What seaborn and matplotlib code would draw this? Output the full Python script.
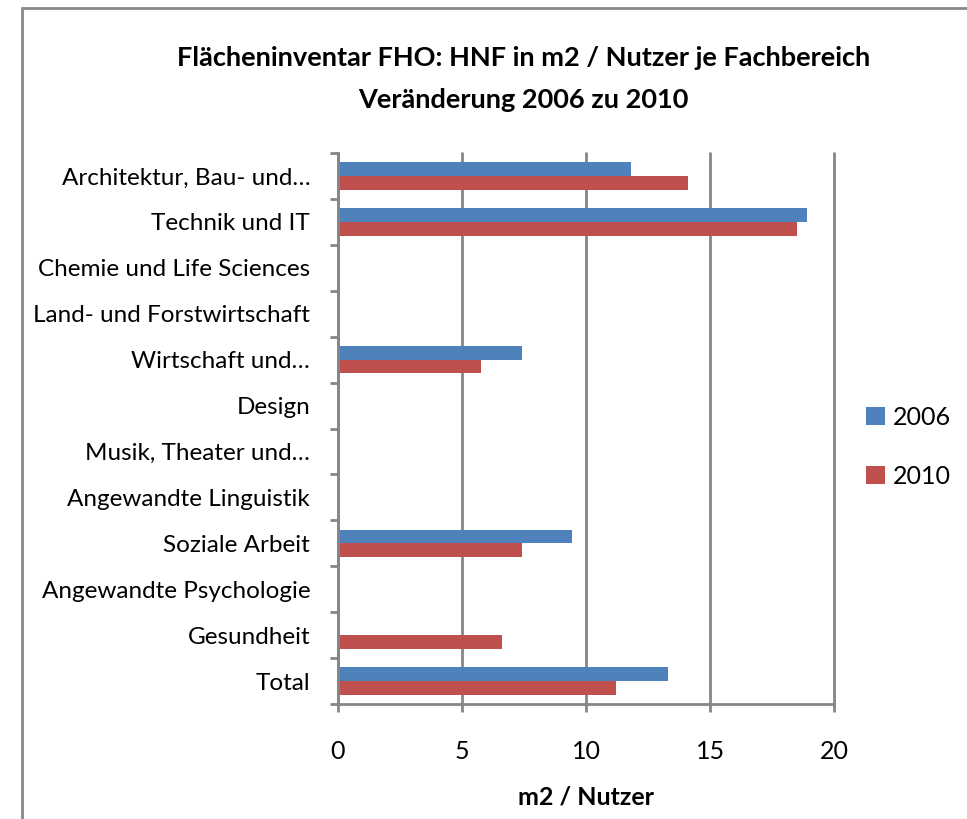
import matplotlib
matplotlib.use("Agg")
import matplotlib.pyplot as plt
from matplotlib.patches import Rectangle
from matplotlib.ticker import FixedLocator
import numpy as np
import pandas as pd
import seaborn as sns

categories = [
    "Architektur, Bau- und…",
    "Technik und IT",
    "Chemie und Life Sciences",
    "Land- und Forstwirtschaft",
    "Wirtschaft und…",
    "Design",
    "Musik, Theater und…",
    "Angewandte Linguistik",
    "Soziale Arbeit",
    "Angewandte Psychologie",
    "Gesundheit",
    "Total",
]
values_2006 = [11.8, 18.9, np.nan, np.nan, 7.4, np.nan, np.nan, np.nan, 9.45, np.nan, np.nan, 13.3]
values_2010 = [14.1, 18.5, np.nan, np.nan, 5.75, np.nan, np.nan, np.nan, 7.4, np.nan, 6.6, 11.2]
years = ["2006", "2010"]
x_ticks = [0, 5, 10, 15, 20]

df = pd.DataFrame({
    "Fachbereich": categories * 2,
    "Jahr": [years[0]] * len(categories) + [years[1]] * len(categories),
    "Wert": values_2006 + values_2010,
})

sns.set_theme(style="white")
plt.rcParams["font.family"] = ["Lato", "DejaVu Sans"]
plt.rcParams["text.color"] = "black"
plt.rcParams["xtick.color"] = "black"
plt.rcParams["ytick.color"] = "black"
plt.rcParams["axes.labelcolor"] = "black"

fig = plt.figure(figsize=(9.67, 8.19), dpi=100)
ax = fig.add_axes([0.3495, 0.1404, 0.8625 - 0.3495, 0.8132 - 0.1404])

sns.barplot(
    data=df, x="Wert", y="Fachbereich", hue="Jahr", order=categories,
    hue_order=years, palette=["#4F81BD", "#C0504D"], orient="h",
    width=0.6, ax=ax, errorbar=None, edgecolor="none", saturation=1,
)

ax.set_xlim(0, 20)
ax.set_ylim(len(categories) - 0.5, -0.5)
ax.set_xticks(x_ticks)
ax.set_xticklabels([str(t) for t in x_ticks], fontsize=18)
ax.xaxis.grid(True, color="#868686", linewidth=2)
for gl in ax.get_xgridlines():
    gl.set_clip_on(False)
ax.set_axisbelow(True)

# category labels without major ticks; boundary ticks as minor ticks
ax.tick_params(axis="y", which="major", length=0, labelsize=17.5, pad=20)
ax.yaxis.set_minor_locator(FixedLocator(np.arange(-0.5, len(categories), 1.0)))
ax.tick_params(axis="y", which="minor", length=6, width=2, color="#868686", left=True)
ax.tick_params(axis="x", which="major", length=6, width=2, color="#868686", bottom=True, pad=20)

for side in ["top", "right"]:
    ax.spines[side].set_visible(False)
for side in ["left", "bottom"]:
    ax.spines[side].set_color("#868686")
    ax.spines[side].set_linewidth(2)

ax.set_ylabel("")
ax.set_xlabel("m2 / Nutzer", fontsize=18, fontweight="bold", labelpad=16)

leg = ax.legend(
    loc="center left", bbox_to_anchor=(1.02, 0.467), frameon=False,
    fontsize=18, handlelength=0.75, handleheight=0.75, handletextpad=0.3,
    labelspacing=1.45,
)

fig.text(0.541, 0.929, "Flächeninventar FHO: HNF in m2 / Nutzer je Fachbereich",
         ha="center", va="center", fontsize=19.5, fontweight="bold")
fig.text(0.541, 0.878, "Veränderung 2006 zu 2010",
         ha="center", va="center", fontsize=19.5, fontweight="bold")

# chart frame
fig.add_artist(Rectangle((22 / 967, -0.05), 1.0, 1 - 8 / 819 + 0.05,
                         transform=fig.transFigure, fill=False,
                         edgecolor="#888888", linewidth=2))

fig.savefig("out.png", dpi=100)
